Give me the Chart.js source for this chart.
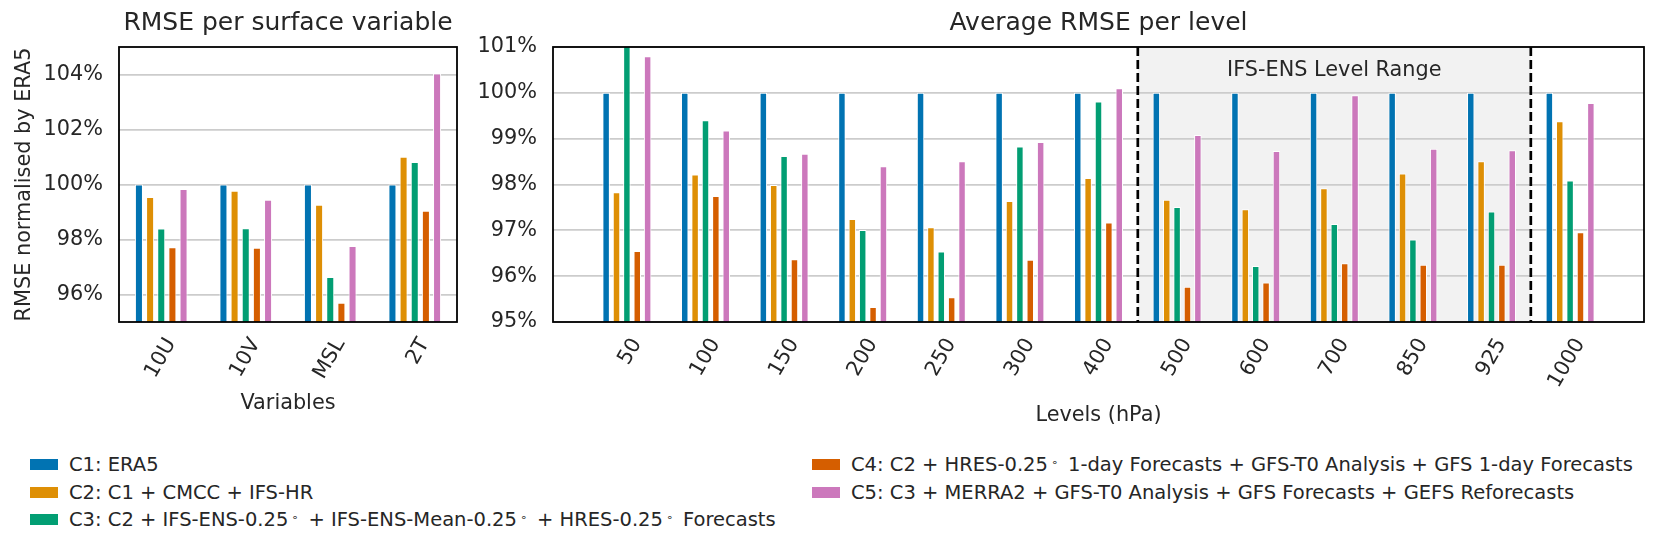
<!DOCTYPE html>
<html>
<head>
<meta charset="utf-8">
<script src="https://cdn.jsdelivr.net/npm/chart.js@4.4.1/dist/chart.umd.min.js"></script>
<style>
html,body{margin:0;padding:0;background:#fff;overflow:hidden;width:1660px;height:554px;font-family:'DejaVu Sans',sans-serif;}
#c1{position:absolute;left:0;top:0;}
#c2{position:absolute;left:470px;top:0;}
.leg{position:absolute;font-size:19.5px;color:#262626;white-space:nowrap;line-height:27.5px;}
.row{height:27.5px;}
.sw{display:inline-block;width:28px;height:11px;margin-right:11px;vertical-align:middle;position:relative;top:-1px;}
.deg{font-size:11px;vertical-align:top;position:relative;top:-2px;margin:0 4px 0 3px;}
</style>
</head>
<body>
<canvas id="c1" width="470" height="440"></canvas>
<canvas id="c2" width="1190" height="440"></canvas>
<div class="leg" id="legA" style="left:30px;top:451px;"></div>
<div class="leg" id="legB" style="left:812px;top:451px;"></div>
<script>
// ---------- data ----------
const surfaceVars = ['10U', '10V', 'MSL', '2T'];
const levels = ['50', '100', '150', '200', '250', '300', '400', '500', '600', '700', '850', '925', '1000'];

const seriesLabels = [
  'C1: ERA5',
  'C2: C1 + CMCC + IFS-HR',
  'C3: C2 + IFS-ENS-0.25° + IFS-ENS-Mean-0.25° + HRES-0.25° Forecasts',
  'C4: C2 + HRES-0.25° 1-day Forecasts + GFS-T0 Analysis + GFS 1-day Forecasts',
  'C5: C3 + MERRA2 + GFS-T0 Analysis + GFS Forecasts + GEFS Reforecasts'
];
const seriesColors = ['#0173b2', '#de8f05', '#029e73', '#d55e00', '#cc78bc'];

const surfaceC1 = [100, 100, 100, 100];
const surfaceC2 = [99.55, 99.77, 99.26, 101.01];
const surfaceC3 = [98.40, 98.41, 96.64, 100.82];
const surfaceC4 = [97.72, 97.70, 95.70, 99.05];
const surfaceC5 = [99.84, 99.45, 97.76, 104.04];

const levelC1 = [100, 100, 100, 100, 100, 100, 100, 100, 100, 100, 100, 100, 100];
const levelC2 = [97.83, 98.22, 97.99, 97.25, 97.07, 97.64, 98.14, 97.67, 97.46, 97.92, 98.24, 98.51, 99.38];
const levelC3 = [101.3, 99.40, 98.62, 97.01, 96.54, 98.83, 99.81, 97.51, 96.22, 97.14, 96.80, 97.41, 98.09];
const levelC4 = [96.55, 97.75, 96.37, 95.33, 95.54, 96.36, 97.17, 95.77, 95.86, 96.28, 96.25, 96.25, 96.96];
const levelC5 = [100.80, 99.18, 98.67, 98.40, 98.51, 98.93, 100.10, 99.08, 98.73, 99.95, 98.78, 98.75, 99.78];

const surfaceTicks = [96, 98, 100, 102, 104];
const levelTicks = [95, 96, 97, 98, 99, 100, 101];
const surfaceRange = [95, 105];
const levelRange = [95, 101];
const ensLevelRange = ['500', '925'];

const surfaceTitle = 'RMSE per surface variable';
const levelTitle = 'Average RMSE per level';
const surfaceXTitle = 'Variables';
const levelXTitle = 'Levels (hPa)';
const yTitle = 'RMSE normalised by ERA5';
const shadeLabel = 'IFS-ENS Level Range';

// ---------- rendering ----------
const FONT = "'DejaVu Sans'";
const TXT = '#262626';
Chart.defaults.font.family = FONT;
Chart.defaults.color = TXT;

const framePlugin = {
  id: 'frame',
  beforeDraw(chart, args, o) {
    if (!o.shade) return;
    const {ctx, chartArea: a} = chart;
    const xs = chart.scales.x;
    const x1 = xs.getPixelForValue(o.shade[0]);
    const x2 = xs.getPixelForValue(o.shade[1]);
    ctx.save();
    ctx.fillStyle = '#f2f2f2';
    ctx.fillRect(x1, a.top, x2 - x1, a.bottom - a.top);
    ctx.restore();
  },
  afterDraw(chart, args, o) {
    const {ctx, chartArea: a} = chart;
    ctx.save();
    if (o.shade) {
      const xs = chart.scales.x;
      const x1 = xs.getPixelForValue(o.shade[0]);
      const x2 = xs.getPixelForValue(o.shade[1]);
      ctx.strokeStyle = '#000';
      ctx.lineWidth = 2.7;
      ctx.setLineDash([9, 4]);
      [x1, x2].forEach(x => {
        ctx.beginPath();
        ctx.moveTo(x, a.top);
        ctx.lineTo(x, a.bottom);
        ctx.stroke();
      });
      ctx.setLineDash([]);
      ctx.fillStyle = TXT;
      ctx.font = '20.8px ' + FONT;
      ctx.textAlign = 'center';
      ctx.textBaseline = 'middle';
      ctx.fillText(o.shadeLabel, (x1 + x2) / 2, 71);
    }
    ctx.strokeStyle = '#000';
    ctx.lineWidth = 1.8;
    ctx.strokeRect(a.left, a.top, a.right - a.left, a.bottom - a.top);
    ctx.fillStyle = TXT;
    ctx.font = '25px ' + FONT;
    ctx.textAlign = 'center';
    ctx.textBaseline = 'middle';
    ctx.fillText(o.title, (a.left + a.right) / 2, 23);
    ctx.restore();
  }
};

function makeChart(id, cats, series, cfg) {
  const datasets = series.map((vals, k) => ({
    label: seriesLabels[k],
    data: vals.map((v, i) => ({x: i, y: v})),
    backgroundColor: seriesColors[k],
    borderColor: '#ffffff',
    borderWidth: 1,
    borderSkipped: 'start',
    categoryPercentage: 0.66,
    barPercentage: 0.72
  }));
  return new Chart(document.getElementById(id), {
    type: 'bar',
    data: {datasets},
    plugins: [framePlugin],
    options: {
      responsive: false,
      animation: false,
      devicePixelRatio: 1,
      layout: {padding: {top: 47, left: 0, right: cfg.rightPad, bottom: 0}},
      plugins: {
        legend: {display: false},
        tooltip: {enabled: false},
        frame: {title: cfg.title, shade: cfg.shade, shadeLabel: cfg.shadeLabel}
      },
      scales: {
        x: {
          type: 'linear',
          min: cfg.xMin,
          max: cfg.xMax,
          offset: false,
          afterBuildTicks: s => { s.ticks = cats.map((c, i) => ({value: i})); },
          afterFit: s => { s.height = 118; },
          grid: {display: false, drawTicks: false},
          border: {display: false},
          ticks: {
            autoSkip: false, minRotation: 60, maxRotation: 60,
            padding: 12, labelOffset: 10,
            font: {size: 20.8}, color: TXT,
            callback: v => cats[v]
          },
          title: {display: true, text: cfg.xTitle, font: {size: 20.8}, color: TXT,
                  padding: {top: cfg.xTitlePad, bottom: cfg.xTitlePad}}
        },
        y: {
          type: 'linear',
          min: cfg.yRange[0],
          max: cfg.yRange[1],
          afterBuildTicks: s => { s.ticks = cfg.yTicks.map(v => ({value: v})); },
          afterFit: s => { s.width = cfg.yWidth; },
          grid: {color: '#cccccc', lineWidth: 1.7, drawTicks: false},
          border: {display: false},
          ticks: {padding: 16, font: {size: 20.8}, color: TXT, callback: v => v + '%'},
          title: {display: !!cfg.yTitle, text: cfg.yTitle || '', font: {size: 20.8}, color: TXT,
                  padding: {top: 12, bottom: 12}}
        }
      }
    }
  });
}

makeChart('c1', surfaceVars, [surfaceC1, surfaceC2, surfaceC3, surfaceC4, surfaceC5], {
  title: surfaceTitle, xTitle: surfaceXTitle, yTitle: yTitle,
  xMin: -0.5, xMax: surfaceVars.length - 0.5,
  yRange: surfaceRange, yTicks: surfaceTicks, yWidth: 119, rightPad: 13, xTitlePad: 23.5
});

const i0 = levels.indexOf(ensLevelRange[0]);
const i1 = levels.indexOf(ensLevelRange[1]);
makeChart('c2', levels, [levelC1, levelC2, levelC3, levelC4, levelC5], {
  title: levelTitle, xTitle: levelXTitle, yTitle: null,
  xMin: -0.94, xMax: levels.length - 1 + 0.94,
  yRange: levelRange, yTicks: levelTicks, yWidth: 83, rightPad: 16, xTitlePad: 11.5,
  shade: [i0 - 0.5, i1 + 0.5], shadeLabel: shadeLabel
});

// ---------- legend (column-major, 2 columns) ----------
function legendItem(k) {
  const row = document.createElement('div');
  row.className = 'row';
  const sw = document.createElement('span');
  sw.className = 'sw';
  sw.style.background = seriesColors[k];
  row.appendChild(sw);
  const parts = seriesLabels[k].split('°');
  parts.forEach((p, j) => {
    row.appendChild(document.createTextNode(p));
    if (j < parts.length - 1) {
      const d = document.createElement('span');
      d.className = 'deg';
      d.textContent = '∘';
      row.appendChild(d);
    }
  });
  return row;
}
const legA = document.getElementById('legA');
const legB = document.getElementById('legB');
[0, 1, 2].forEach(k => legA.appendChild(legendItem(k)));
[3, 4].forEach(k => legB.appendChild(legendItem(k)));
</script>
</body>
</html>
